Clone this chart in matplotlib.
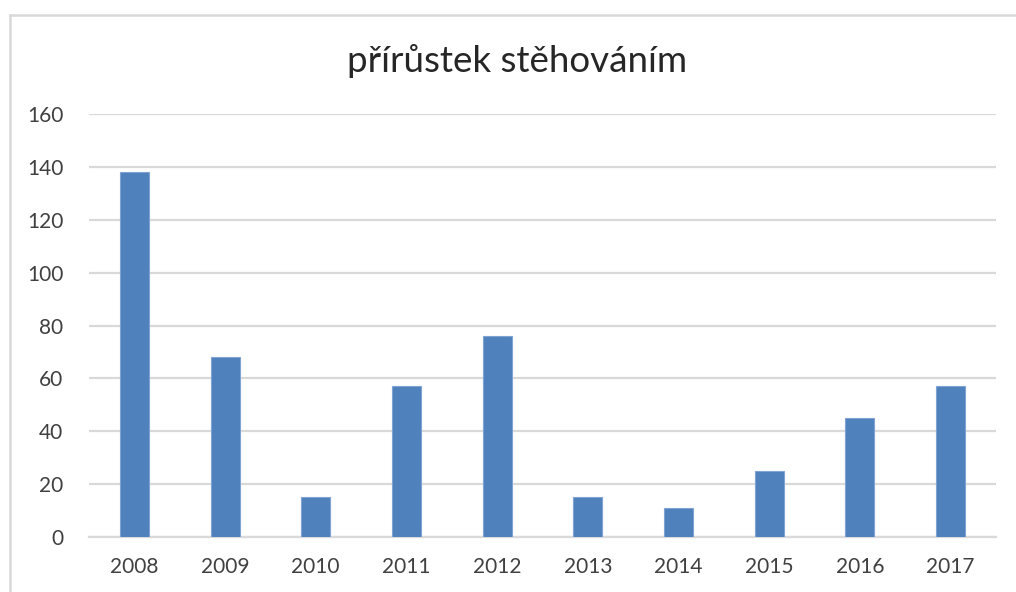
import matplotlib
matplotlib.use("Agg")
import matplotlib.pyplot as plt
from matplotlib.lines import Line2D

years = ["2008", "2009", "2010", "2011", "2012", "2013", "2014", "2015", "2016", "2017"]
values = [138, 68, 15, 57, 76, 15, 11, 25, 45, 57]
yticks = [0, 20, 40, 60, 80, 100, 120, 140, 160]
title = "přírůstek stěhováním"

plt.rcParams['font.family'] = ['Lato', 'DejaVu Sans']

W, H = 1016, 592
fig = plt.figure(figsize=(W / 100, H / 100), dpi=100)
fig.patch.set_facecolor("white")

ax = fig.add_axes([89 / W, (H - 537) / H, (996 - 89) / W, (537 - 114) / H])
x = range(len(years))
ax.bar(x, values, width=0.32, color="#4F81BD", edgecolor="#7FA3D2", linewidth=0.8, zorder=3)
ax.set_xlim(-0.5, len(years) - 0.5)
ax.set_ylim(0, 160)
ax.set_yticks(yticks)
ax.set_xticks(list(x))
ax.set_xticklabels(years)
ax.yaxis.grid(True, color="#D9D9D9", linewidth=1.6, zorder=0)
ax.set_axisbelow(True)
for s in ["top", "right", "left"]:
    ax.spines[s].set_visible(False)
ax.spines["bottom"].set_color("#D9D9D9")
ax.spines["bottom"].set_linewidth(1.6)
ax.tick_params(axis="both", length=0, labelsize=15, labelcolor="#404040")
ax.tick_params(axis="y", pad=18.5)
ax.tick_params(axis="x", pad=14.5)

fig.text(517 / W, (H - 61) / H, title, ha="center", va="center",
         fontsize=26.5, color="#262626")

# chart border (top and left visible)
fig.add_artist(Line2D([9.5 / W, 1.0], [(H - 15) / H] * 2, color="#D9D9D9", linewidth=1.8))
fig.add_artist(Line2D([9.5 / W] * 2, [0, (H - 15) / H], color="#D9D9D9", linewidth=1.8))

fig.savefig("out.png", dpi=100, facecolor="white")
